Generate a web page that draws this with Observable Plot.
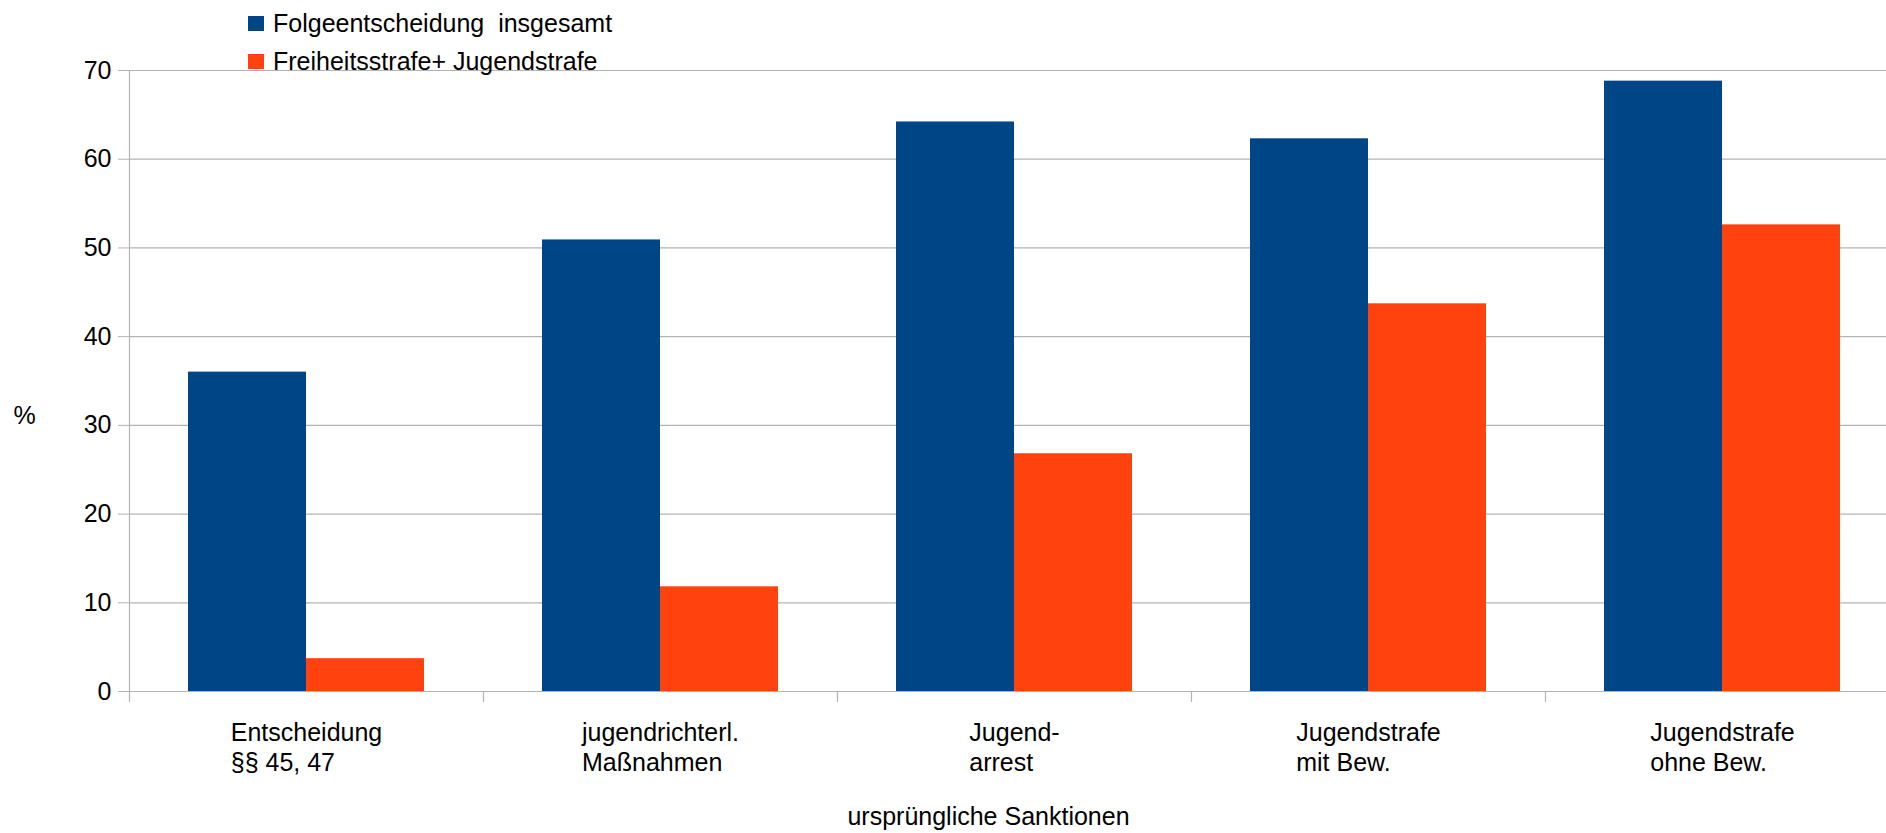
<!DOCTYPE html>
<html>
<head>
<meta charset="utf-8">
<script src="https://cdn.jsdelivr.net/npm/d3@7"></script>
<script src="https://cdn.jsdelivr.net/npm/@observablehq/plot@0.6"></script>
<style>
  body { margin: 0; background: #fff; }
  #chart { position: relative; width: 1886px; height: 833px; font-family: "Liberation Sans", Arial, sans-serif; }
  #chart svg { position: absolute; left: 0; top: 0; }
  .legend { position: absolute; left: 248px; top: 5px; font-size: 25px; color: #000; z-index: 2; }
  .legend .item { display: flex; align-items: center; height: 37.5px; white-space: pre; }
  .legend .sw { width: 16px; height: 15px; margin-right: 9px; flex: none; }
</style>
</head>
<body>
<div id="chart"></div>
<script>
// Original sanctions (x categories)
const categories = [
  "Entscheidung\n§§ 45, 47",
  "jugendrichterl.\nMaßnahmen",
  "Jugend-\narrest",
  "Jugendstrafe\nmit Bew.",
  "Jugendstrafe\nohne Bew."
];
// Series names
const seriesNames = ["Folgeentscheidung  insgesamt", "Freiheitsstrafe+ Jugendstrafe"];
// Percent values per series
const folgeentscheidung = [36.0, 50.9, 64.2, 62.3, 68.8];
const freiheitsstrafe = [3.7, 11.8, 26.8, 43.7, 52.6];
// Y axis ticks
const yTicks = [0, 10, 20, 30, 40, 50, 60, 70];
const yLabel = "%";
const xLabel = "ursprüngliche Sanktionen";

const colors = ["#004586", "#ff420e"];
const gray = "#b3b3b3";
const font = "Liberation Sans, Arial, sans-serif";

const width = 1886, height = 833;
const marginLeft = 129, marginRight = -13, marginTop = 70, marginBottom = 142;
const bw = (width - marginLeft - marginRight) / categories.length;

const rowsA = categories.map((c, i) => ({category: c, value: folgeentscheidung[i]}));
const rowsB = categories.map((c, i) => ({category: c, value: freiheitsstrafe[i]}));

const svg = Plot.plot({
  width, height, marginLeft, marginRight, marginTop, marginBottom,
  style: {fontFamily: font, fontSize: "25px", color: "#000", background: "#fff"},
  x: {type: "band", domain: categories, padding: 0, axis: null},
  y: {domain: [0, 70], axis: null},
  marks: [
    Plot.gridY(yTicks, {stroke: gray, strokeOpacity: 1, strokeWidth: 1.2}),
    Plot.barY(rowsA, {x: "category", y: "value", fill: colors[0], insetLeft: bw / 6, insetRight: bw / 2}),
    Plot.barY(rowsB, {x: "category", y: "value", fill: colors[1], insetLeft: bw / 2, insetRight: bw / 6}),
    // vertical axis line at the left edge of the first band
    Plot.ruleX([categories[0]], {stroke: gray, strokeWidth: 1.2, dx: -bw / 2}),
    Plot.axisY({ticks: yTicks, tickSize: 11, tickPadding: 7, stroke: gray, fontSize: 25, label: null}),
    // separator ticks at band boundaries
    Plot.axisX({tickSize: 11, stroke: gray, strokeWidth: 1.2, dx: -bw / 2, tickFormat: () => "", label: null}),
    // category labels
    Plot.axisX({tickSize: 0, tickPadding: 28, fontSize: 25, lineHeight: 1.2, label: null}),
    Plot.text([yLabel], {frameAnchor: "left", textAnchor: "middle", lineAnchor: "middle", dx: -105, dy: 34.5, fontSize: 25}),
    Plot.text([xLabel], {frameAnchor: "bottom", textAnchor: "middle", lineAnchor: "middle", dx: -26, dy: 125, fontSize: 25})
  ]
});

const chart = document.getElementById("chart");
chart.appendChild(svg);

// Category labels: block centred on the band, lines aligned to the left
svg.querySelectorAll('g[aria-label="x-axis tick label"] text').forEach(t => {
  if (!t.textContent.trim()) return;
  const before = t.getBBox();
  t.setAttribute("text-anchor", "start");
  const after = t.getBBox();
  const shift = before.x - after.x;
  const tr = t.getAttribute("transform") || "";
  t.setAttribute("transform", (tr + ` translate(${shift},0)`).trim());
});

// Legend
const legend = document.createElement("div");
legend.className = "legend";
seriesNames.forEach((name, i) => {
  const item = document.createElement("div");
  item.className = "item";
  const sw = document.createElement("span");
  sw.className = "sw";
  sw.style.background = colors[i];
  const label = document.createElement("span");
  label.textContent = name;
  item.appendChild(sw);
  item.appendChild(label);
  legend.appendChild(item);
});
chart.appendChild(legend);
</script>
</body>
</html>
